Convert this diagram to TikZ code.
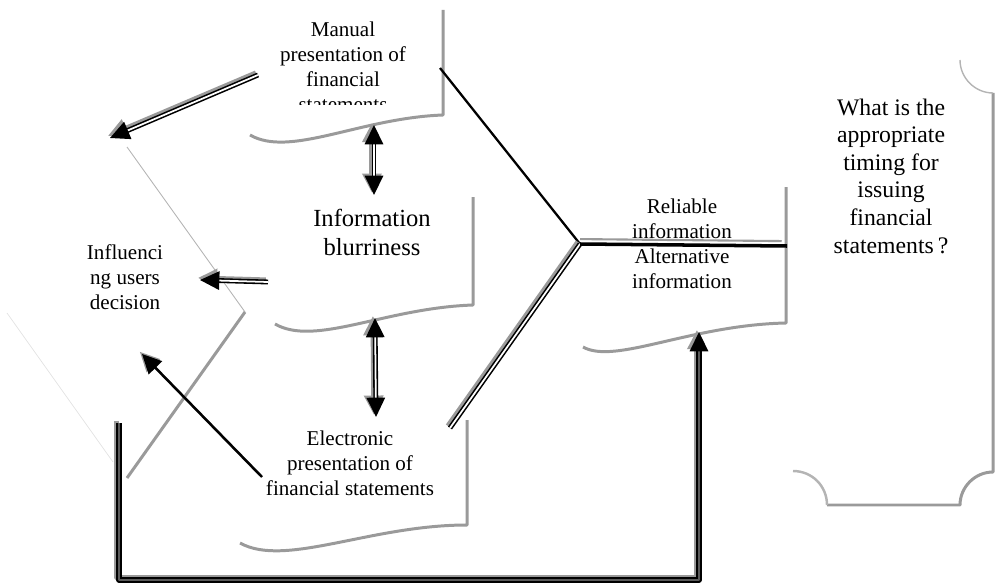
\documentclass[tikz,border=0pt]{standalone}
\usepackage{fontspec}
\setmainfont{Liberation Serif}
\usetikzlibrary{arrows.meta}
\definecolor{shadowgray}{HTML}{9A9A9A}
\definecolor{lightgray}{HTML}{B4B4B4}
\definecolor{palegray}{HTML}{E2E2E2}
\definecolor{darkgray}{HTML}{5A5A5A}
\tikzset{
  every picture/.style={line join=round, >=Triangle},
  label text/.style={align=center, inner sep=0pt, font=\fontsize{12}{14.2}\selectfont},
  page edge/.style={draw=shadowgray, line width=1.7pt},
  faint edge/.style={draw=lightgray, line width=1.4pt},
  tip/.style={-{Triangle[length=11pt,width=10.5pt]}},
  both tips/.style={{Triangle[length=11pt,width=10.5pt]}-{Triangle[length=11pt,width=10.5pt]}},
  arrow shadow/.style={draw=shadowgray, line width=2.8pt, transform canvas={xshift=-1.2pt,yshift=1.2pt}},
  dbl arrow/.style={draw=black, double=white, line width=0.9pt, double distance=1pt},
  loop arrow/.style={draw=black, double=darkgray, line width=1pt, double distance=1pt},
}
\begin{document}
\begin{tikzpicture}[x=0.02cm,y=-0.02cm]
\useasboundingbox (0,0) rectangle (996,584);

% end points of the connectors
\coordinate (manualL) at (258,75);
\coordinate (userTop) at (110,138);
\coordinate (blurL) at (268,282);
\coordinate (userMid) at (200,280);
\coordinate (elecL) at (262,477);
\coordinate (userLow) at (142,354);
\coordinate (manualB) at (374,125);
\coordinate (blurT) at (374,195);
\coordinate (blurB) at (375,318);
\coordinate (elecT) at (376,417);
\coordinate (spine) at (580,244);
\coordinate (manualR) at (440,68);
\coordinate (elecR) at (450,428);
\coordinate (reliableR) at (787,246);
\coordinate (dropTop) at (119,423);
\coordinate (reliableB) at (699,332);
\coordinate (chevTip) at (245,312);

% page shapes (only their shadow edges show)
\draw[page edge] (250,135) .. controls (290,158) and (360,118) .. (443,115) -- (443,10);
\draw[page edge] (275,324) .. controls (315,347) and (385,308) .. (473,305) -- (473,197);
\draw[page edge] (240,543) .. controls (285,568) and (370,525) .. (467,525) -- (467,420);
\draw[page edge] (583,347) .. controls (615,365) and (690,325) .. (786,323) -- (786,187);
\draw[page edge] (993,93) -- (993,472) .. controls (975,472) and (960,487) .. (960,505) -- (827,505);
\draw[faint edge] (827,505) .. controls (827,486) and (812,471) .. (793,471);
\draw[faint edge, line width=0.8pt] (960,60) .. controls (960,78) and (975,93) .. (993,93);

% chevron round the users
\draw[lightgray, line width=0.5pt] (127,147) -- (chevTip);
\draw[shadowgray, line width=1.7pt] (chevTip) -- (127,478);
\draw[palegray, line width=0.4pt] (7,313) -- (113,462);

% texts
\begin{scope}
\clip (250,0) rectangle (443,105);
\node[label text] (manual) at (343,67) {Manual\\presentation of\\financial\\statements};
\end{scope}
\node[label text, font=\fontsize{14}{16.5}\selectfont] (blur) at (372,232) {Information\\blurriness};
\node[label text] (electronic) at (350,463) {Electronic\\presentation of\\financial statements};
\node[label text] (reliable) at (682,244) {Reliable\\information\\Alternative\\information};
\node[label text] (influence) at (125,277) {Influenci\\ng users\\decision};
\node[label text, font=\fontsize{13.5}{15.7}\selectfont] (question) at (891,176) {What is the\\appropriate\\timing for\\issuing\\financial\\statements\,?};

% fishbone
\draw[black, line width=1.3pt] (manualR) -- (spine);
\draw[arrow shadow] (elecR) -- (spine);
\draw[dbl arrow] (elecR) -- (spine);
\draw[shadowgray, line width=1.2pt] ([yshift=2.8pt]spine) -- ([xshift=-3pt,yshift=2.8pt]reliableR);
\draw[black, line width=2pt] (spine) -- (reliableR);

% arrows to the users
\draw[arrow shadow, tip] (manualL) -- (userTop);
\draw[dbl arrow, tip] (manualL) -- (userTop);
\draw[arrow shadow, tip] (blurL) -- (userMid);
\draw[dbl arrow, tip] (blurL) -- (userMid);
\draw[arrow shadow, line width=1.4pt, tip] (elecL) -- (userLow);
\draw[black, line width=1.4pt, tip] (elecL) -- (userLow);

% arrows between the pages
\draw[arrow shadow, both tips] (manualB) -- (blurT);
\draw[dbl arrow, both tips] (manualB) -- (blurT);
\draw[arrow shadow, both tips] (blurB) -- (elecT);
\draw[dbl arrow, both tips] (blurB) -- (elecT);

% feedback loop
\draw[arrow shadow, tip] (dropTop) -- ++(0,157) -| (reliableB);
\draw[loop arrow, tip] (dropTop) -- ++(0,157) -| (reliableB);
\end{tikzpicture}
\end{document}
